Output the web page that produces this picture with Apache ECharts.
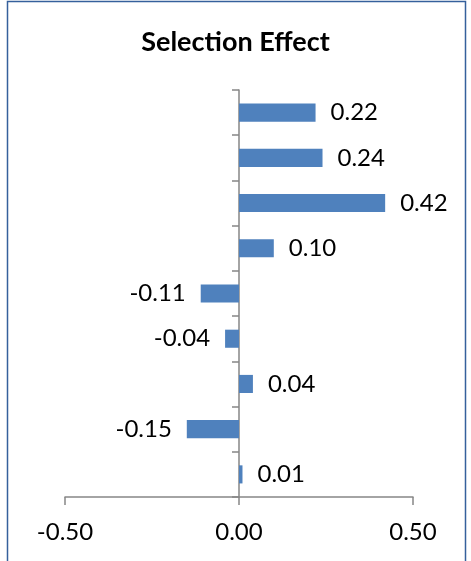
<!DOCTYPE html>
<html>
<head>
<meta charset="utf-8">
<script src="https://cdn.jsdelivr.net/npm/echarts@6/dist/echarts.min.js"></script>
<style>
  html, body { margin: 0; padding: 0; background: #fff; }
  #chart { width: 471px; height: 561px; }
</style>
</head>
<body>
<div id="chart"></div>
<script>
// categories top to bottom (the original has no category labels)
const categories = ["1", "2", "3", "4", "5", "6", "7", "8", "9"];
const values = [0.22, 0.24, 0.42, 0.10, -0.11, -0.04, 0.04, -0.15, 0.01];
const xTicks = [-0.5, 0, 0.5];

const AXIS_COLOR = "#868686";
const BAR_COLOR = "#4F81BD";
const FONT = "Lato, 'Open Sans', sans-serif";

const chart = echarts.init(document.getElementById("chart"));

chart.setOption({
  animation: false,
  title: {
    text: "Selection Effect",
    left: "center",
    top: 24,
    textStyle: { fontFamily: FONT, fontWeight: "bold", fontSize: 27, color: "#000" },
  },
  graphic: [
    {
      type: "rect",
      shape: { x: 7.5, y: 1.5, width: 458, height: 600 },
      style: { fill: "none", stroke: "#35609C", lineWidth: 1.5 },
      silent: true,
    },
  ],
  grid: { left: 65, right: 58, top: 90, bottom: 64 },
  xAxis: {
    type: "value",
    min: xTicks[0],
    max: xTicks[xTicks.length - 1],
    interval: 0.5,
    splitLine: { show: false },
    axisLine: { show: true, lineStyle: { color: AXIS_COLOR, width: 1.5 } },
    axisTick: { show: true, length: 8, lineStyle: { color: AXIS_COLOR, width: 1.5 } },
    axisLabel: {
      fontFamily: FONT,
      fontSize: 24,
      color: "#000",
      margin: 23,
      formatter: (v) => v.toFixed(2),
    },
  },
  yAxis: {
    type: "category",
    data: categories,
    inverse: true,
    axisLine: { show: true, onZero: true, lineStyle: { color: AXIS_COLOR, width: 1.5 } },
    axisTick: { show: true, length: 7, interval: 0, lineStyle: { color: AXIS_COLOR, width: 1.5 } },
    axisLabel: { show: false },
  },
  series: [
    {
      type: "bar",
      barCategoryGap: "60%",
      itemStyle: { color: BAR_COLOR },
      data: values.map((v) => ({
        value: v,
        label: {
          show: true,
          position: v < 0 ? "left" : "right",
          distance: 15,
          fontFamily: FONT,
          fontSize: 24,
          color: "#000",
          formatter: (p) => p.value.toFixed(2),
        },
      })),
    },
  ],
});
</script>
</body>
</html>
